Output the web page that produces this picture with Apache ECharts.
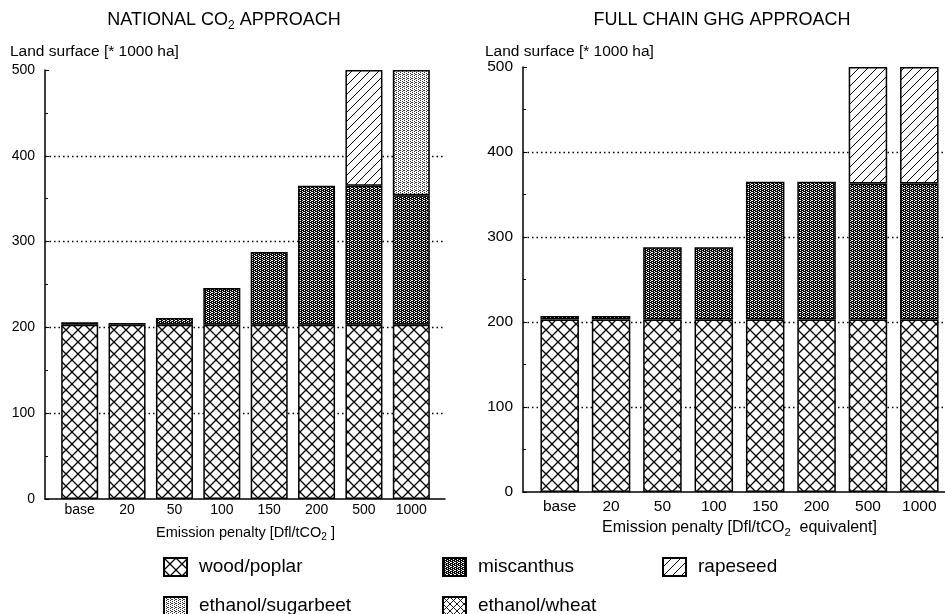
<!DOCTYPE html>
<html>
<head>
<meta charset="utf-8">
<script src="https://cdn.jsdelivr.net/npm/echarts@6/dist/echarts.min.js"></script>
<style>
html,body{margin:0;padding:0;background:#fff;}
#c{width:945px;height:614px;}
</style>
</head>
<body>
<div id="c"></div>
<script>
// ---- data ----
const categories = ['base', '20', '50', '100', '150', '200', '500', '1000'];
const seriesNames = ['wood/poplar', 'miscanthus', 'rapeseed', 'ethanol/sugarbeet', 'ethanol/wheat'];
// National CO2 approach (1000 ha)
const natWood  = [203, 203, 203, 203, 203, 203, 203, 203];
const natMisc  = [3, 2, 8, 43, 85, 162, 162, 151];
const natRape  = [0, 0, 0, 0, 0, 0, 135, 0];
const natBeet  = [0, 0, 0, 0, 0, 0, 0, 146];
const natWheat = [0, 0, 0, 0, 0, 0, 0, 0];
// Full chain GHG approach (1000 ha)
const fullWood  = [203, 203, 203, 203, 203, 203, 203, 203];
const fullMisc  = [4, 4, 85, 85, 162, 162, 160, 160];
const fullRape  = [0, 0, 0, 0, 0, 0, 137, 137];
const fullBeet  = [0, 0, 0, 0, 0, 0, 0, 0];
const fullWheat = [0, 0, 0, 0, 0, 0, 0, 0];
const yMin = 0, yMax = 500, yStep = 100;

const F = '"Liberation Sans", Arial, Helvetica, sans-serif';

// ---- patterns ----
function mk(w, h, draw) {
  const c = document.createElement('canvas');
  c.width = w; c.height = h;
  const g = c.getContext('2d');
  g.fillStyle = '#fff'; g.fillRect(0, 0, w, h);
  draw(g, w, h);
  return { image: c, repeat: 'repeat' };
}
const patWood = mk(12, 12, function (g) {
  g.strokeStyle = '#000'; g.lineWidth = 1.3;
  g.beginPath(); g.moveTo(0, 0); g.lineTo(12, 12); g.moveTo(12, 0); g.lineTo(0, 12); g.stroke();
});
const patMisc = mk(4, 4, function (g) {
  g.fillStyle = '#0a0a0a'; g.fillRect(0, 0, 4, 4);
  g.fillStyle = '#fff';
  [[0, 0], [2, 1], [0, 2], [2, 3], [3, 0]].forEach(function (p) { g.fillRect(p[0], p[1], 1, 1); });
});
const patRape = mk(9, 9, function (g) {
  g.strokeStyle = '#000'; g.lineWidth = 1;
  g.beginPath(); g.moveTo(-1, 10); g.lineTo(10, -1); g.moveTo(-2, 2); g.lineTo(2, -2); g.moveTo(7, 11); g.lineTo(11, 7); g.stroke();
});
const patBeet = mk(4, 4, function (g) {
  g.fillStyle = '#333';
  [[0, 0], [2, 1], [0, 2], [2, 3], [3, 2]].forEach(function (p) { g.fillRect(p[0], p[1], 1, 1); });
});
const patWheat = mk(7, 7, function (g) {
  g.strokeStyle = '#000'; g.lineWidth = 0.9;
  g.beginPath(); g.moveTo(0, 0); g.lineTo(7, 7); g.moveTo(7, 0); g.lineTo(0, 7); g.stroke();
});
const patterns = [patWood, patMisc, patRape, patBeet, patWheat];

const chart = echarts.init(document.getElementById('c'), null, { renderer: 'canvas' });

function toData(arr) { return arr.map(function (v) { return v ? v : '-'; }); }

function makeSeries(gridIdx, arrays, bw) {
  return arrays.map(function (arr, k) {
    return {
      name: seriesNames[k], type: 'bar', stack: 's' + gridIdx,
      xAxisIndex: gridIdx, yAxisIndex: gridIdx,
      barWidth: bw,
      itemStyle: { color: patterns[k], borderColor: '#000', borderWidth: 1.5 },
      emphasis: { disabled: true },
      data: toData(arr)
    };
  });
}

// visible frame y axis
function yFrame(gi, fs) {
  return {
    type: 'value', gridIndex: gi, min: yMin, max: yMax, interval: yStep,
    axisLine: { show: true, onZero: false, lineStyle: { color: '#000', width: 1.5 } },
    axisTick: { show: true, inside: true, length: 4, lineStyle: { color: '#000' } },
    minorTick: { show: true, splitNumber: 2, length: 3, lineStyle: { color: '#000' } },
    axisLabel: { color: '#000', fontSize: fs, fontFamily: F, margin: 10 },
    splitLine: { show: true, showMinLine: false, showMaxLine: false,
      lineStyle: { type: [1.5, 3], color: '#000', width: 1.3 } }
  };
}
// hidden y axis for bars (same scale)
function yBars(gi) {
  return { type: 'value', gridIndex: gi, min: yMin, max: yMax, interval: yStep, show: false,
    splitLine: { show: false } };
}
// visible frame x axis (axis line only)
function xFrame(gi) {
  return {
    type: 'value', gridIndex: gi, min: 0, max: 1,
    axisLine: { show: true, onZero: false, lineStyle: { color: '#000', width: 1.5 } },
    axisTick: { show: false }, axisLabel: { show: false }, splitLine: { show: false }
  };
}
// category axis for bars: labels and name only
function xBars(gi, fs, margin, name, nameGap, nfs) {
  return {
    type: 'category', gridIndex: gi, data: categories,
    axisLine: { show: false }, axisTick: { show: false },
    axisLabel: { color: '#000', fontSize: fs, fontFamily: F, margin: margin, interval: 0 },
    name: name, nameLocation: 'middle', nameGap: nameGap,
    nameTextStyle: {
      color: '#000', fontSize: nfs, fontFamily: F,
      rich: { s: { fontSize: nfs * 0.7, fontFamily: F, color: '#000', padding: [9, 0, 0, 0] } }
    }
  };
}

function legendItem(name, left, top) {
  return {
    data: [name], left: left, top: top, orient: 'horizontal',
    itemWidth: 23, itemHeight: 18, itemGap: 0, padding: 0,
    icon: 'rect', selectedMode: false,
    textStyle: { color: '#000', fontSize: 19, fontFamily: F, padding: [0, 0, 0, 7] }
  };
}

const option = {
  backgroundColor: '#fff',
  animation: false,
  grid: [
    { left: 45, right: 945 - 445, top: 70, bottom: 614 - 499 },   // frame left
    { left: 56, right: 945 - 435, top: 70, bottom: 614 - 499 },   // bars left
    { left: 523, right: 0, top: 67, bottom: 614 - 492 },          // frame right
    { left: 534, right: 0, top: 67, bottom: 614 - 492 }           // bars right
  ],
  xAxis: [
    xFrame(0),
    xBars(1, 14, 4, 'Emission penalty [Dfl/tCO{s|2} ]', 24, 14.5),
    xFrame(2),
    xBars(3, 15.5, 7, 'Emission penalty [Dfl/tCO{s|2}  equivalent]', 26, 16)
  ],
  yAxis: [yFrame(0, 14), yBars(1), yFrame(2, 15.5), yBars(3)],
  legend: [
    legendItem('wood/poplar', 163, 557),
    legendItem('miscanthus', 442, 557),
    legendItem('rapeseed', 662, 557),
    legendItem('ethanol/sugarbeet', 163, 596),
    legendItem('ethanol/wheat', 442, 596)
  ],
  graphic: [
    { type: 'text', x: 224, y: 20, style: {
        text: '{a|NATIONAL CO}{s|2}{a| APPROACH}', align: 'center', verticalAlign: 'middle', fill: '#000',
        rich: { a: { fontSize: 18, fontFamily: F, fill: '#000' }, s: { fontSize: 12, fontFamily: F, fill: '#000', padding: [11, 0, 0, 0] } } } },
    { type: 'text', x: 722, y: 20, style: {
        text: 'FULL CHAIN GHG APPROACH', align: 'center', verticalAlign: 'middle', fill: '#000',
        fontSize: 18, fontFamily: F } },
    { type: 'text', x: 10, y: 52, style: {
        text: 'Land surface [* 1000 ha]', align: 'left', verticalAlign: 'middle', fill: '#000',
        fontSize: 15.5, fontFamily: F } },
    { type: 'text', x: 485, y: 52, style: {
        text: 'Land surface [* 1000 ha]', align: 'left', verticalAlign: 'middle', fill: '#000',
        fontSize: 15.5, fontFamily: F } }
  ],
  series: [].concat(
    makeSeries(1, [natWood, natMisc, natRape, natBeet, natWheat], 37),
    makeSeries(3, [fullWood, fullMisc, fullRape, fullBeet, fullWheat], 38.5)
  )
};
chart.setOption(option);
</script>
</body>
</html>
